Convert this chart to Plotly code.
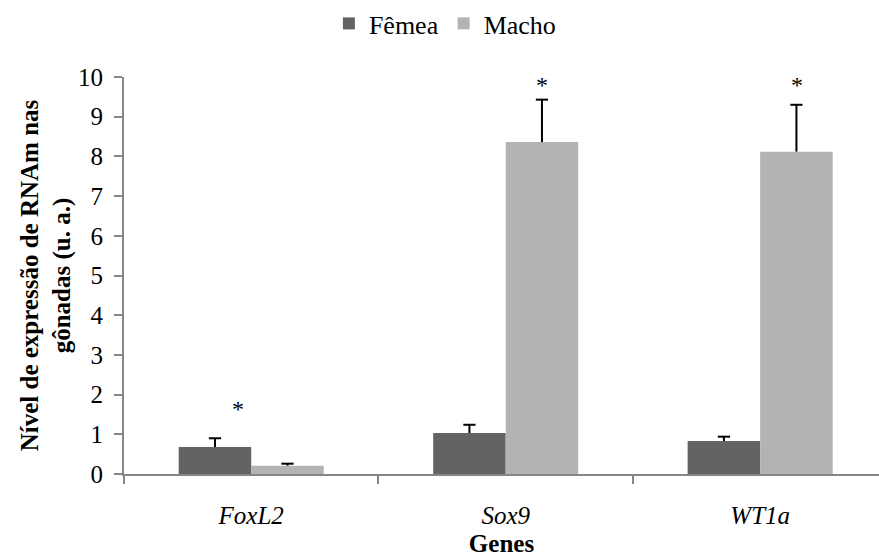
import plotly.graph_objects as go

genes = ["FoxL2", "Sox9", "WT1a"]
femea = [0.68, 1.03, 0.83]
femea_err = [0.22, 0.21, 0.11]
macho = [0.21, 8.36, 8.12]
macho_err = [0.05, 1.07, 1.18]
star_dx = [-0.053, 0.143, 0.143]
star_y = [1.65, 9.8, 9.8]

dark = "#636363"
light = "#b3b3b3"
axis_col = "#868686"
font = "Liberation Serif"
bw = 0.285
cap = 0.024

xpos = list(range(len(genes)))

fig = go.Figure()
fig.add_bar(x=xpos, y=femea, name="Fêmea", width=bw, offset=-bw,
            marker=dict(color=dark, line=dict(width=0)))
fig.add_bar(x=xpos, y=macho, name="Macho", width=bw, offset=0,
            marker=dict(color=light, line=dict(width=0)))

# error bars (upper only)
ex, ey = [], []
for vals, errs, sh in ((femea, femea_err, -bw / 2), (macho, macho_err, bw / 2)):
    for i, (v, e) in enumerate(zip(vals, errs)):
        c = xpos[i] + sh
        ex += [c, c, None, c - cap, c + cap, None]
        ey += [v, v + e, None, v + e, v + e, None]
fig.add_scatter(x=ex, y=ey, mode="lines", line=dict(color="black", width=2),
                showlegend=False, hoverinfo="skip")

for i, (dx, sy) in enumerate(zip(star_dx, star_y)):
    fig.add_annotation(x=xpos[i] + dx, y=sy, text="*", showarrow=False,
                       font=dict(family=font, size=24, color="black"))

fig.update_layout(
    width=879, height=557,
    margin=dict(l=124, r=0, t=76, b=83),
    paper_bgcolor="white", plot_bgcolor="white",
    barmode="overlay",
    font=dict(family=font, size=25, color="black"),
    legend=dict(orientation="h", x=0.425, xanchor="center", y=1.135, yanchor="middle",
                font=dict(size=26), traceorder="normal", itemwidth=30),
)
fig.update_xaxes(range=[-0.5, 2.467], showline=True, linecolor=axis_col, linewidth=2,
                 automargin=False,
                 tickmode="array", tickvals=xpos, ticktext=genes, ticks="",
                 ticklabelstandoff=18,
                 minor=dict(tickmode="array", tickvals=[-0.5, 0.5, 1.5], ticks="outside",
                            ticklen=8, tickcolor=axis_col, tickwidth=2, showgrid=False),
                 tickfont=dict(family=font, size=25, style="italic"),
                 title=dict(text="<b>Genes</b>", font=dict(family=font, size=25), standoff=14),
                 showgrid=False, zeroline=False)
fig.update_yaxes(range=[0, 10], dtick=1, showline=True, linecolor=axis_col, linewidth=2,
                 automargin=False,
                 ticks="outside", ticklen=8, tickcolor=axis_col, tickwidth=2,
                 ticklabelstandoff=6,
                 tickfont=dict(family=font, size=25),
                 title=dict(text="<b>Nível de expressão de RNAm nas<br>gônadas (u. a.)</b>",
                            font=dict(family=font, size=25), standoff=0),
                 showgrid=False, zeroline=False)

fig.write_html("out.html")
